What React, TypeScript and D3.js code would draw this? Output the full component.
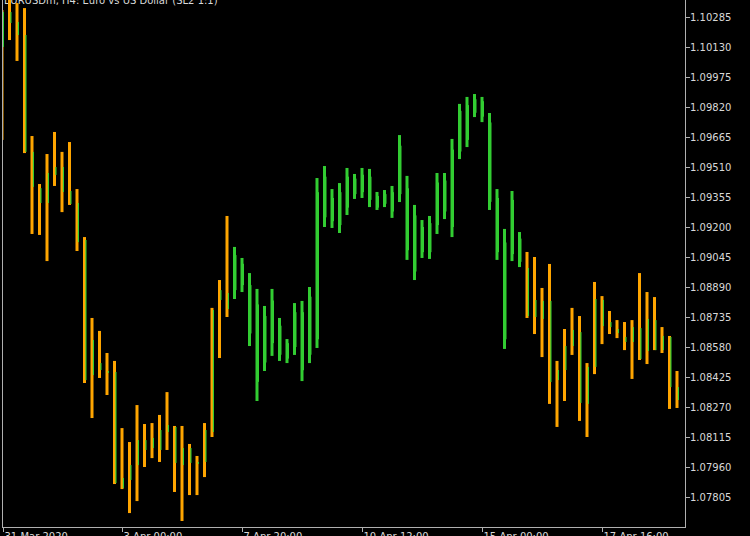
import { useEffect } from "react";
import * as d3 from "d3";

// EURUSD H4, 91 bars
const highs = [
	1.10321, 1.10393, 1.10357, 1.10331, 1.0967, 1.09422, 1.09577, 1.09691, 1.09588, 1.09639,
	1.09396, 1.09148, 1.0873, 1.08663, 1.08549, 1.08508, 1.08161, 1.08089, 1.0828, 1.08182,
	1.08187, 1.08229, 1.08347, 1.08172, 1.08172, 1.08079, 1.08017, 1.08187, 1.08782, 1.08926,
	1.09257, 1.09097, 1.0904, 1.08962, 1.0888, 1.08792, 1.0888, 1.0873, 1.08621, 1.08807,
	1.08818, 1.0889, 1.09453, 1.09515, 1.09396, 1.09427, 1.09505, 1.09474, 1.09505, 1.095,
	1.09381, 1.09391, 1.09412, 1.09675, 1.09464, 1.09314, 1.09236, 1.09257, 1.09479, 1.09479,
	1.09655, 1.09836, 1.09872, 1.09887, 1.09872, 1.09789, 1.09396, 1.0919, 1.09386, 1.09174,
	1.09071, 1.09045, 1.08885, 1.09009, 1.08508, 1.08673, 1.08782, 1.0874, 1.08497, 1.08916,
	1.08843, 1.08766, 1.08719, 1.08709, 1.08719, 1.08962, 1.08864, 1.08838, 1.08683, 1.08637,
	1.08456,
];
const lows = [
	1.0965, 1.10166, 1.10058, 1.09582, 1.09164, 1.09159, 1.09024, 1.09412, 1.09277, 1.09314,
	1.09076, 1.08394, 1.08213, 1.0842, 1.08332, 1.07872, 1.07846, 1.07722, 1.07784, 1.0796,
	1.08006, 1.07986, 1.08048, 1.07831, 1.07681, 1.07815, 1.07815, 1.07908, 1.08115, 1.08523,
	1.08735, 1.08828, 1.08864, 1.08585, 1.08301, 1.08456, 1.08534, 1.08508, 1.08497, 1.08539,
	1.08404, 1.08497, 1.08575, 1.092, 1.09195, 1.09169, 1.09262, 1.09345, 1.0935, 1.09303,
	1.09288, 1.09303, 1.09247, 1.09329, 1.0903, 1.08926, 1.0904, 1.09035, 1.09164, 1.09241,
	1.09148, 1.09551, 1.09613, 1.09768, 1.09742, 1.09288, 1.0903, 1.0857, 1.09024, 1.08993,
	1.0873, 1.08647, 1.08528, 1.08286, 1.08167, 1.08301, 1.08539, 1.08198, 1.08115, 1.0844,
	1.08595, 1.08647, 1.08626, 1.08564, 1.08415, 1.08513, 1.08492, 1.08564, 1.08549, 1.0826,
	1.08265,
];
const opens = [
	1.10311, 1.10311, 1.10259, 1.10192, 1.09588, 1.09401, 1.09479, 1.0951, 1.0951, 1.09386,
	1.09324, 1.09133, 1.08616, 1.08497, 1.08456, 1.08451, 1.07903, 1.0797, 1.08099, 1.08099,
	1.0811, 1.08151, 1.08177, 1.08167, 1.08058, 1.08058, 1.07986, 1.08151, 1.08771, 1.08874,
	1.08859, 1.08874, 1.089, 1.0865, 1.084, 1.085, 1.086, 1.0854, 1.0852, 1.0858,
	1.0846, 1.0854, 1.0862, 1.0925, 1.0923, 1.0921, 1.093, 1.0937, 1.0938, 1.0934,
	1.093, 1.0932, 1.0928, 1.0937, 1.0908, 1.0897, 1.0907, 1.0907, 1.0921, 1.0928,
	1.092, 1.0959, 1.0965, 1.0979, 1.0977, 1.0933, 1.0907, 1.0862, 1.0906, 1.0902,
	1.08988, 1.08823, 1.08818, 1.08818, 1.08461, 1.08585, 1.08668, 1.08657, 1.08477, 1.08828,
	1.08823, 1.08709, 1.08673, 1.08632, 1.08683, 1.08678, 1.08725, 1.08719, 1.08637, 1.08632,
	1.08373,
];
const closes = [
	1.1013, 1.10254, 1.10192, 1.09588, 1.09407, 1.09324, 1.09324, 1.09469, 1.09381, 1.09319,
	1.09122, 1.08409, 1.08435, 1.08461, 1.08446, 1.07877, 1.07851, 1.07893, 1.0797, 1.08048,
	1.08058, 1.08048, 1.08141, 1.07981, 1.0797, 1.07981, 1.07976, 1.07986, 1.08141, 1.08823,
	1.08776, 1.09055, 1.0901, 1.089, 1.088, 1.0874, 1.0882, 1.0869, 1.086, 1.0876,
	1.0876, 1.0884, 1.0938, 1.0946, 1.0935, 1.0938, 1.0946, 1.0945, 1.0947, 1.0946,
	1.0936, 1.0937, 1.0938, 1.0962, 1.094, 1.0926, 1.092, 1.0922, 1.0943, 1.0944,
	1.096, 1.098, 1.0983, 1.0986, 1.0985, 1.0974, 1.0935, 1.0912, 1.0934, 1.0914,
	1.0874, 1.08735, 1.08725, 1.08399, 1.08409, 1.08461, 1.08585, 1.08291, 1.08286, 1.08477,
	1.08688, 1.08683, 1.08652, 1.08606, 1.08606, 1.08518, 1.08559, 1.08564, 1.08564, 1.08373,
	1.08306,
];

// trend state of the indicator: runs of bars
const trendRuns: [string, number][] = [
	["down", 31],
	["up", 39],
	["down", 21],
];

const priceTicks = [
	"1.10285", "1.10130", "1.09975", "1.09820", "1.09665", "1.09510", "1.09355", "1.09200",
	"1.09045", "1.08890", "1.08735", "1.08580", "1.08425", "1.08270", "1.08115", "1.07960",
	"1.07805",
];

const timeTickBars = [0, 16, 32, 48, 64, 80];
const timeTickLabels = ["31 Mar 2020", "3 Apr 00:00", "7 Apr 20:00", "10 Apr 12:00", "15 Apr 00:00", "17 Apr 16:00"];

const title = "EURUSDm, H4: Euro vs US Dollar (SL2 1:1)";

const W = 750;
const H = 536;
const plot = { left: 3, right: 685, top: 0, bottom: 527 };
const COLOR_UP = "#32cd32";
const COLOR_DOWN = "#ffa500";
const FG = "#d8d8d8";
const AXIS = "#b0b0b0";
const FONT = "DejaVu Sans, sans-serif";

export default function App() {
	useEffect(() => {
		document.body.style.margin = "0";
		document.body.style.background = "#000";
	}, []);

	const trend = trendRuns.flatMap(([t, n]) => Array(n).fill(t) as string[]);

	const x = d3.scaleLinear().domain([0, highs.length - 1]).range([2, 677]);
	const y = d3
		.scaleLinear()
		.domain([+priceTicks[0], +priceTicks[priceTicks.length - 1]])
		.range([17, 497]);

	return (
		<svg
			width={W}
			height={H}
			style={{ position: "fixed", left: 0, top: 0, background: "#000", display: "block" }}
		>
			<defs>
				<clipPath id="plot-clip">
					<rect x={plot.left} y={plot.top} width={plot.right - plot.left} height={plot.bottom - plot.top} />
				</clipPath>
			</defs>
			<rect width={W} height={H} fill="#000" />

			<text x={4} y={4} fill={FG} fontFamily={FONT} fontSize={10}>
				{title}
			</text>

			<g clipPath="url(#plot-clip)">
				{highs.map((hi, i) => {
					const cx = x(i);
					const bodyTop = y(Math.max(opens[i], closes[i]));
					const bodyBot = y(Math.min(opens[i], closes[i]));
					const color = trend[i] === "up" ? COLOR_UP : COLOR_DOWN;
					return (
						<g key={i}>
							<rect x={cx - 1.5} y={y(hi)} width={3} height={y(lows[i]) - y(hi)} fill={color} />
							<rect
								x={cx + 0.8}
								y={bodyTop}
								width={1.2}
								height={Math.max(1, bodyBot - bodyTop)}
								fill={COLOR_UP}
							/>
						</g>
					);
				})}
			</g>

			{/* frame */}
			<line x1={plot.left - 0.5} x2={plot.left - 0.5} y1={0} y2={plot.bottom} stroke={AXIS} />
			<line x1={plot.left - 1} x2={plot.right + 0.5} y1={plot.bottom + 0.5} y2={plot.bottom + 0.5} stroke={AXIS} />
			<line x1={plot.right + 0.5} x2={plot.right + 0.5} y1={0} y2={plot.bottom + 1} stroke={AXIS} />

			{/* price axis */}
			{priceTicks.map((t) => {
				const ty = Math.round(y(+t)) + 0.5;
				return (
					<g key={t}>
						<line x1={plot.right + 1} x2={plot.right + 5} y1={ty} y2={ty} stroke={AXIS} />
						<text x={plot.right + 5} y={ty + 3.5} fill={FG} fontFamily={FONT} fontSize={10}>
							{t}
						</text>
					</g>
				);
			})}

			{/* time axis */}
			{timeTickBars.map((b, k) => {
				const tx = Math.max(plot.left, Math.round(x(b))) + 0.5;
				return (
					<g key={b}>
						<line x1={tx} x2={tx} y1={plot.bottom + 1} y2={plot.bottom + 5} stroke={AXIS} />
						<text x={tx + 1} y={540} fill={FG} fontFamily={FONT} fontSize={10}>
							{timeTickLabels[k]}
						</text>
					</g>
				);
			})}
		</svg>
	);
}
